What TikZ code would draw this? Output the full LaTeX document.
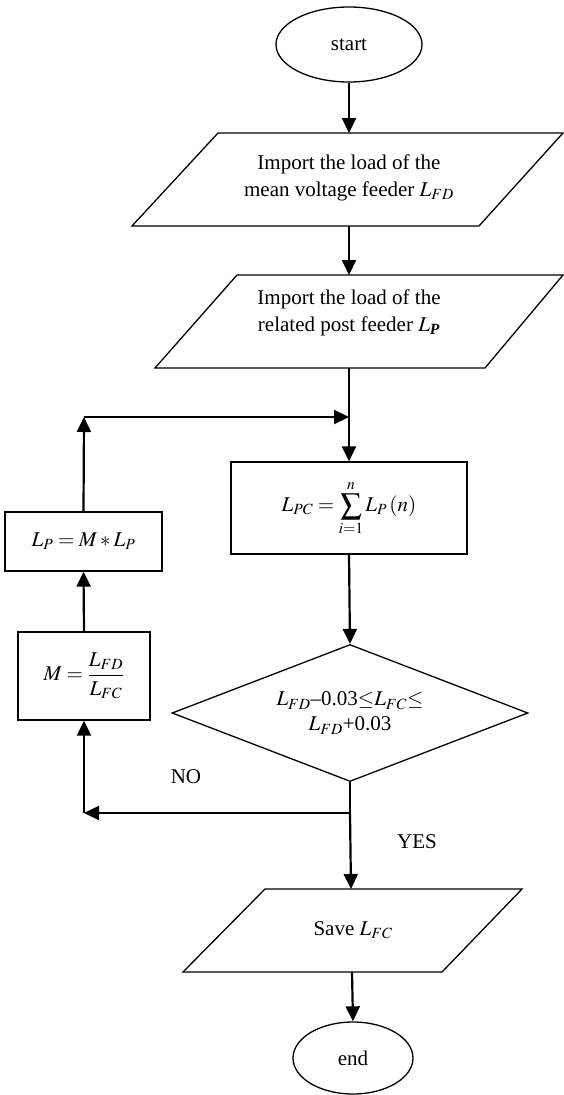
\documentclass[tikz,border=0pt]{standalone}
\usepackage{amsmath}
\usepackage{mathptmx}
\usepackage{fontspec}
\setmainfont{Liberation Serif}
\usetikzlibrary{shapes.geometric,arrows.meta}
\begin{document}
\begin{tikzpicture}[x=1pt,y=-1pt,
  every node/.style={font=\fontsize{21}{27}\selectfont},
  shapeline/.style={line width=1.3pt},
  flow/.style={line width=2.2pt,-{Triangle[length=15pt,width=14pt]}},
  plainline/.style={line width=2.2pt},
  box/.style={draw,shapeline,rectangle,inner sep=0pt},
  terminal/.style={draw,shapeline,ellipse,inner sep=0pt},
  io/.style={shapeline},
  ]
\useasboundingbox (0,0) rectangle (563,1095);

% terminals
\node[terminal,minimum width=146pt,minimum height=75pt] (start) at (349,44.5) {start};
\node[terminal,minimum width=120pt,minimum height=72pt] (end) at (353,1058) {end};

% input/output parallelograms
\draw[io] (218,133) -- (563,133) -- (479,226) -- (132,226) -- cycle;
\node[align=center] (in1) at (349,178) {Import the load of the\\mean voltage feeder $L_{FD}$};
\draw[io] (237,275) -- (563,275) -- (485,368) -- (155,368) -- cycle;
\node[align=center] (in2) at (349,313) {Import the load of the\\related post feeder $L_{\textbf{\textit{P}}}$};
\draw[io] (265,889) -- (522,889) -- (442,972) -- (183,972) -- cycle;
\node (save) at (353,930) {Save $L_{FC}$};

% process boxes
\node[box,minimum width=236pt,minimum height=92pt] (lpc) at (349,508) {$L_{PC}=\displaystyle\sum_{i=1}^{n} L_P\left(n\right)$};
\node[box,minimum width=157pt,minimum height=59pt] (lp) at (83.5,541.5) {$L_P = M * L_P$};
\node[box,minimum width=132pt,minimum height=88pt] (m) at (84,676) {$M=\dfrac{L_{FD}}{L_{FC}}$};

% decision
\node[draw,shapeline,diamond,aspect=2.6,inner sep=0pt,minimum width=356pt,minimum height=137pt,align=center] (dec) at (350,713) {$L_{FD}$–0.03$\mathord{\leq}L_{FC}\mathord{\leq}$\\[-2pt]$L_{FD}$+0.03};

% labels
\node (no) at (186,777) {NO};
\node (yes) at (417,842) {YES};

% connector points
\coordinate (p1t) at (349,133);
\coordinate (p1b) at (349,226);
\coordinate (p2t) at (349,275);
\coordinate (p2b) at (349,368);
\coordinate (join) at (349,417);
\coordinate (loopc) at (84,417);
\coordinate (junc) at (350,813);
\coordinate (noc) at (84,813);
\coordinate (svt) at (351,889);
\coordinate (svb) at (352,972);

% connectors
\draw[flow] (start.south) -- (p1t);
\draw[flow] (p1b) -- (p2t);
\draw[flow] (p2b) -- (lpc.north);
\draw[flow] (lpc.south) -- (dec.north);
\draw[plainline] (dec.south) -- (junc);
\draw[flow] (junc) -- (svt);
\draw[flow] (junc) -- (noc);
\draw[flow] (noc) -- (m.south);
\draw[flow] (m.north) -- (lp.south);
\draw[flow] (lp.north) -- (loopc);
\draw[flow] (loopc) -- (join);
\draw[flow] (svb) -- (end.north);
\end{tikzpicture}
\end{document}
